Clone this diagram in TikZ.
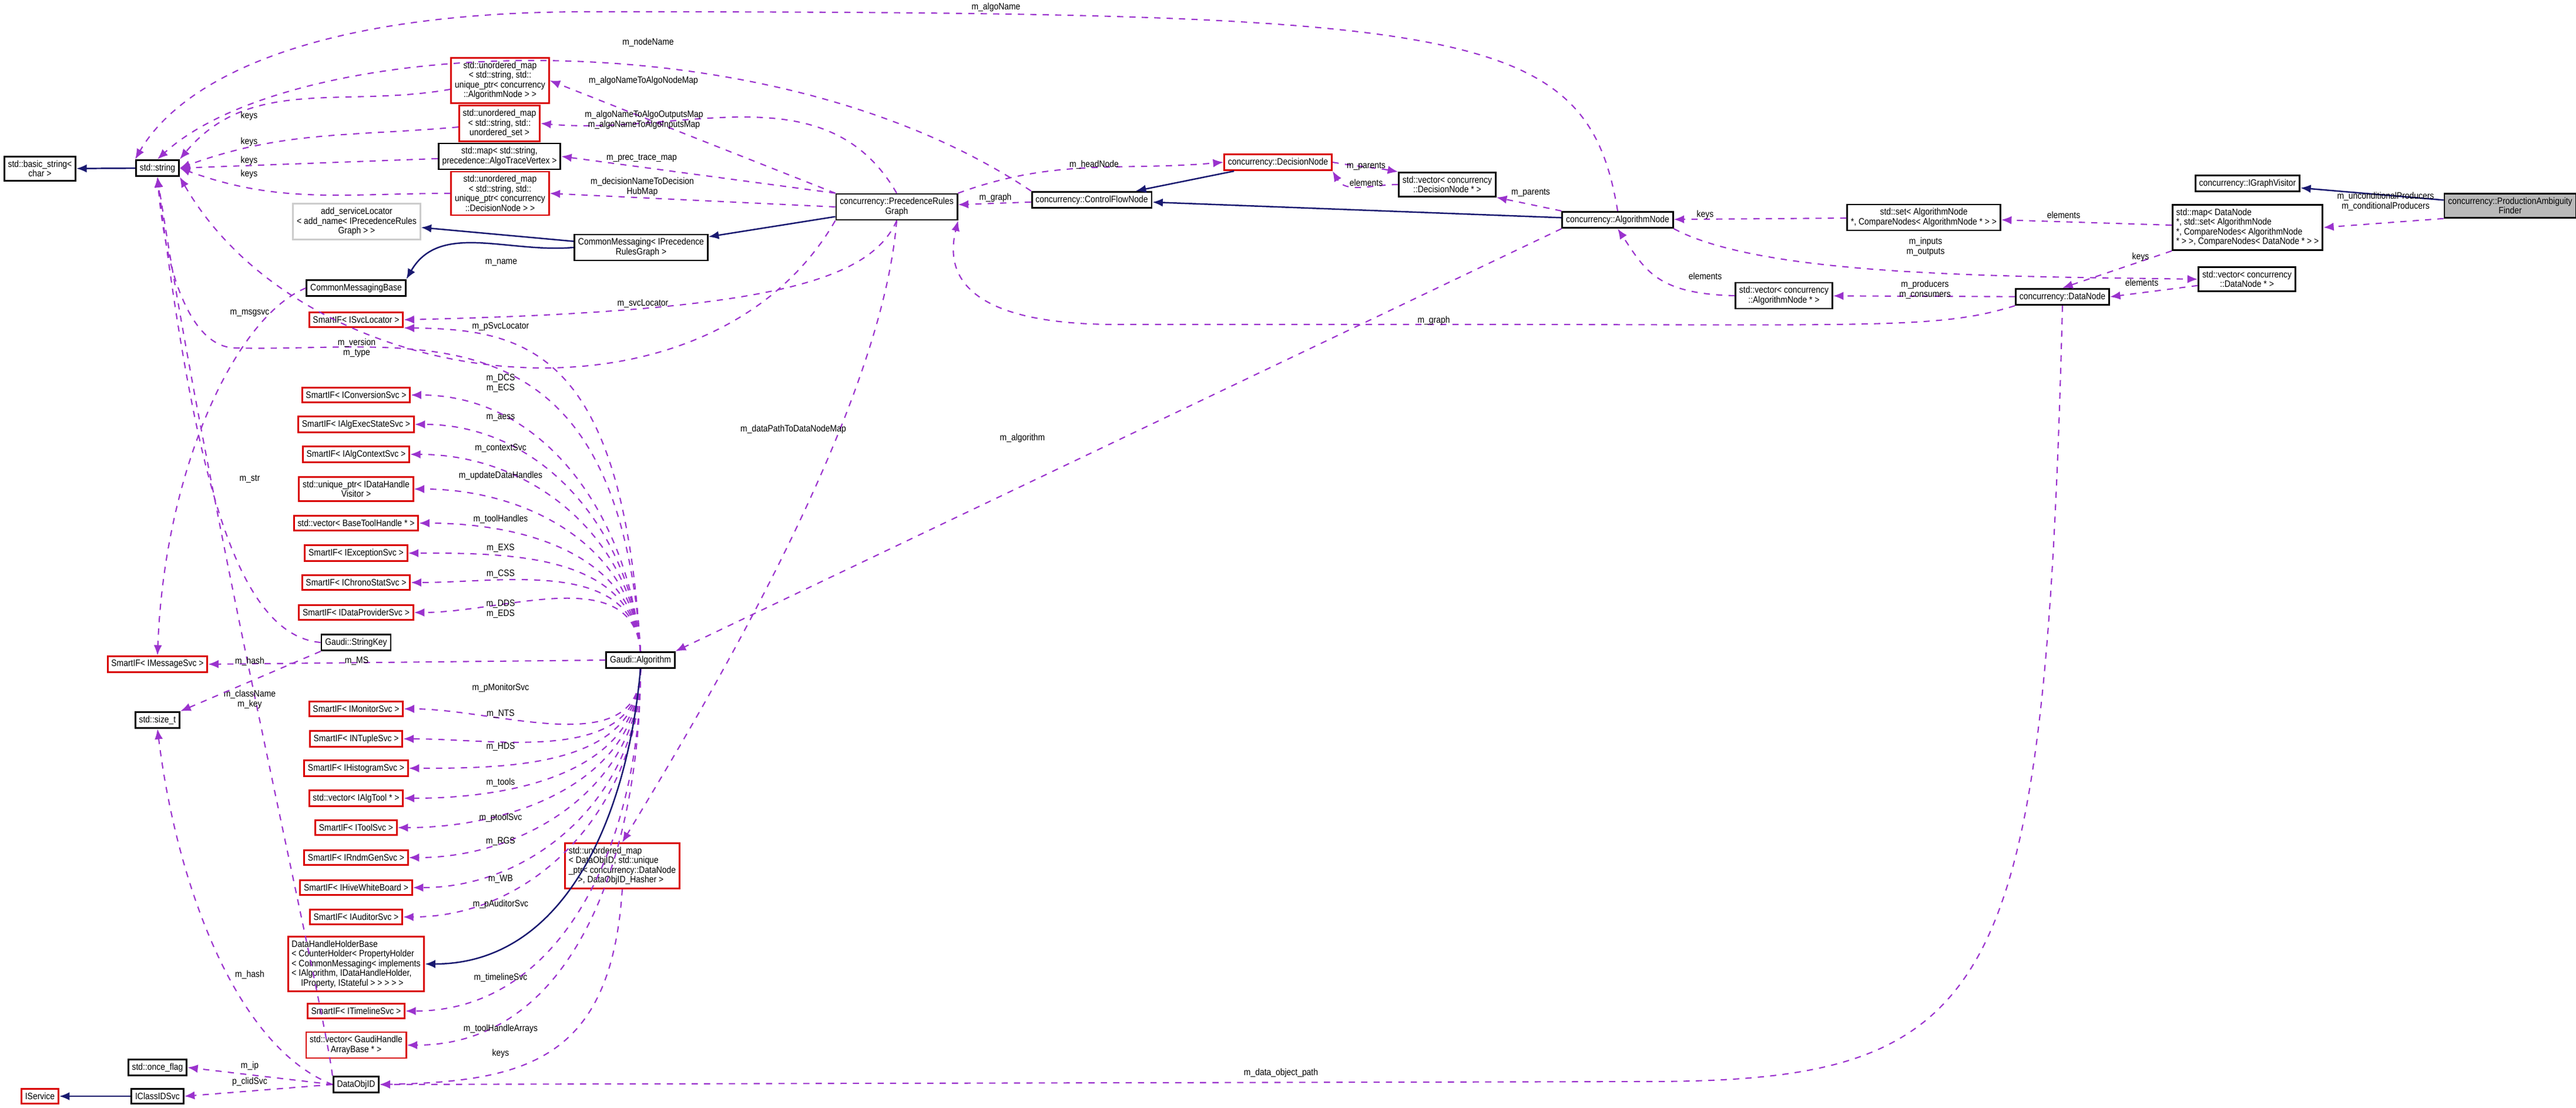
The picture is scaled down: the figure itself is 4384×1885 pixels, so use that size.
\documentclass[tikz,border=0pt]{standalone}
\usepackage{fontspec}
\setmainfont[FakeStretch=0.88]{Liberation Sans}
\usetikzlibrary{arrows.meta}
\definecolor{memberc}{RGB}{154,50,205}
\definecolor{basec}{RGB}{25,25,112}

\begin{document}
\begin{tikzpicture}[x=0.01cm,y=-0.01cm,
    font=\fontsize{4.5}{4.7}\selectfont,
    cls/.style={draw=black,thick,fill=white,align=center,inner sep=1.8pt,minimum height=0.25cm},
    redcls/.style={cls,draw=red!85!black},
    graycls/.style={cls,draw=gray!40},
    focus/.style={cls,fill=gray!55},
    uses/.style={draw=memberc,dashed,line width=0.6pt,-{Latex[length=5pt,width=4pt]}},
    isa/.style={draw=basec,line width=0.7pt,-{Latex[length=5pt,width=4pt]}},
    lbl/.style={align=center,inner sep=1pt},
  ]
  \useasboundingbox (0,0) rectangle (4384,1885);

  % Classes
  \node[cls] (bstr) at (68,287) {std::basic\_string\textless\\char \textgreater};
  \node[cls] (str) at (268,286) {std::string};
  \node[redcls] (umalg) at (851,137) {std::unordered\_map\\\textless{} std::string, std::\\unique\_ptr\textless{} concurrency\\::AlgorithmNode \textgreater{} \textgreater};
  \node[redcls] (umset) at (850,210) {std::unordered\_map\\\textless{} std::string, std::\\unordered\_set \textgreater};
  \node[cls] (mtrace) at (850,266) {std::map\textless{} std::string,\\precedence::AlgoTraceVertex \textgreater};
  \node[redcls] (umdec) at (851,329) {std::unordered\_map\\\textless{} std::string, std::\\unique\_ptr\textless{} concurrency\\::DecisionNode \textgreater{} \textgreater};
  \node[graycls] (addsvc) at (607,377) {add\_serviceLocator\\\textless{} add\_name\textless{} IPrecedenceRules\\Graph \textgreater{} \textgreater};
  \node[cls] (cmbase) at (606,490) {CommonMessagingBase};
  \node[cls] (cmprec) at (1091,421) {CommonMessaging\textless{} IPrecedence\\RulesGraph \textgreater};
  \node[cls] (prg) at (1526,352) {concurrency::PrecedenceRules\\Graph};
  \node[cls] (cfn) at (1858,340) {concurrency::ControlFlowNode};
  \node[redcls] (decn) at (2175,276) {concurrency::DecisionNode};
  \node[cls] (vdec) at (2463,314) {std::vector\textless{} concurrency\\::DecisionNode * \textgreater};
  \node[cls] (algn) at (2753,374) {concurrency::AlgorithmNode};
  \node[cls] (salg) at (3274,370) {std::set\textless{} AlgorithmNode\\*, CompareNodes\textless{} AlgorithmNode * \textgreater{} \textgreater};
  \node[cls,align=left] (mdn) at (3825,387) {std::map\textless{} DataNode\\*, std::set\textless{} AlgorithmNode\\*, CompareNodes\textless{} AlgorithmNode\\* \textgreater{} \textgreater, CompareNodes\textless{} DataNode * \textgreater{} \textgreater};
  \node[cls] (igv) at (3825,312) {concurrency::IGraphVisitor};
  \node[focus] (paf) at (4272,350) {concurrency::ProductionAmbiguity\\Finder};
  \node[cls] (vdn) at (3824,475) {std::vector\textless{} concurrency\\::DataNode * \textgreater};
  \node[cls] (datn) at (3510,505) {concurrency::DataNode};
  \node[cls] (valg) at (3036,503) {std::vector\textless{} concurrency\\::AlgorithmNode * \textgreater};

  \node[cls] (galg) at (1090,1123) {Gaudi::Algorithm};
  \node[redcls] (svcloc) at (606,544) {SmartIF\textless{} ISvcLocator \textgreater};
  \node[cls] (skey) at (606,1093) {Gaudi::StringKey};
  \node[redcls] (msgsvc) at (268,1130) {SmartIF\textless{} IMessageSvc \textgreater};
  \node[cls] (sizet) at (268,1225) {std::size\_t};
  \node[redcls,align=left] (dhhb) at (606,1640) {DataHandleHolderBase\\\textless{} CounterHolder\textless{} PropertyHolder\\\textless{} CommonMessaging\textless{} implements\\\textless{} IAlgorithm, IDataHandleHolder,\\\quad IProperty, IStateful \textgreater{} \textgreater{} \textgreater{} \textgreater{} \textgreater};
  \node[redcls,align=left] (umdo) at (1059,1473) {std::unordered\_map\\\textless{} DataObjID, std::unique\\\_ptr\textless{} concurrency::DataNode\\\quad\textgreater, DataObjID\_Hasher \textgreater};
  \node[cls] (doid) at (606,1845) {DataObjID};
  \node[cls] (oflag) at (268,1816) {std::once\_flag};
  \node[cls] (iclid) at (268,1865) {IClassIDSvc};
  \node[redcls] (isvc) at (68,1865) {IService};

  % Members of Gaudi::Algorithm
  \foreach \nm/\txt/\yy/\lab/\ly in {
      conv/{SmartIF\textless{} IConversionSvc \textgreater}/672/{m\_DCS\\m\_ECS}/652,
      aess/{SmartIF\textless{} IAlgExecStateSvc \textgreater}/722/{m\_aess}/711,
      ctx/{SmartIF\textless{} IAlgContextSvc \textgreater}/773/{m\_contextSvc}/763,
      dhv/{std::unique\_ptr\textless{} IDataHandle\\Visitor \textgreater}/832/{m\_updateDataHandles}/809,
      bth/{std::vector\textless{} BaseToolHandle * \textgreater}/890/{m\_toolHandles}/883,
      exs/{SmartIF\textless{} IExceptionSvc \textgreater}/941/{m\_EXS}/933,
      css/{SmartIF\textless{} IChronoStatSvc \textgreater}/991/{m\_CSS}/977,
      dds/{SmartIF\textless{} IDataProviderSvc \textgreater}/1042/{m\_DDS\\m\_EDS}/1036}{
    \node[redcls] (\nm) at (606,\yy) {\txt};
    \draw[uses] (galg.north) to[out=95,in=0] (\nm.east);
    \node[lbl] at (852,\ly) {\lab};
  }
  \foreach \nm/\txt/\yy/\lab/\ly in {
      mon/{SmartIF\textless{} IMonitorSvc \textgreater}/1206/{m\_pMonitorSvc}/1170,
      nts/{SmartIF\textless{} INTupleSvc \textgreater}/1257/{m\_NTS}/1215,
      hds/{SmartIF\textless{} IHistogramSvc \textgreater}/1307/{m\_HDS}/1271,
      tls/{std::vector\textless{} IAlgTool * \textgreater}/1358/{m\_tools}/1331,
      tsv/{SmartIF\textless{} IToolSvc \textgreater}/1408/{m\_ptoolSvc}/1391,
      rgs/{SmartIF\textless{} IRndmGenSvc \textgreater}/1459/{m\_RGS}/1432,
      hwb/{SmartIF\textless{} IHiveWhiteBoard \textgreater}/1510/{m\_WB}/1496,
      aud/{SmartIF\textless{} IAuditorSvc \textgreater}/1560/{m\_pAuditorSvc}/1538,
      tml/{SmartIF\textless{} ITimelineSvc \textgreater}/1720/{m\_timelineSvc}/1663,
      gha/{std::vector\textless{} GaudiHandle\\ArrayBase * \textgreater}/1778/{m\_toolHandleArrays}/1750}{
    \node[redcls] (\nm) at (606,\yy) {\txt};
    \draw[uses] (galg.south) to[out=-90,in=0] (\nm.east);
    \node[lbl] at (852,\ly) {\lab};
  }

  % Inheritance
  \draw[isa] (str) -- (bstr);
  \draw[isa] (cmprec) -- (addsvc);
  \draw[isa] (cmprec.west) to[out=185,in=60] (cmbase.north east);
  \draw[isa] (prg) -- (cmprec);
  \draw[isa] (decn) -- (cfn);
  \draw[isa] (algn) -- (cfn);
  \draw[isa] (paf) -- (igv);
  \draw[isa] (galg.south) to[out=-95,in=0] (dhhb.east);
  \draw[isa] (iclid) -- (isvc);

  % Members around std::string
  \draw[uses] (umalg) to[out=190,in=50] (str.north east) ;
  \draw[uses] (umset) to[out=185,in=20] (str.east);
  \draw[uses] (mtrace) -- (str.east);
  \draw[uses] (umdec) to[out=180,in=-20] (str.east);
  \draw[uses] (prg.south west) to[out=-120,in=-60] (str.south east);
  \draw[uses] (cfn.north west) .. controls (1300,20) and (500,60) .. (str.north);
  \draw[uses] (algn.north) .. controls (2700,40) and (2500,20) .. (1000,20) .. controls (500,20) and (300,150) .. (str.north west);
  \draw[uses] (galg.north) .. controls (1050,500) and (700,600) .. (400,592) .. controls (320,590) and (280,450) .. (str.south);
  \draw[uses] (skey.west) .. controls (400,1080) and (330,800) .. (str.south);
  \draw[uses] (doid.north west) .. controls (550,1700) and (360,900) .. (str.south);
  \node[lbl] at (424,197) {keys};
  \node[lbl] at (424,241) {keys};
  \node[lbl] at (424,273) {keys};
  \node[lbl] at (424,296) {keys};
  \node[lbl] at (853,447) {m\_name};
  \node[lbl] at (1103,72) {m\_nodeName};
  \node[lbl] at (1695,12) {m\_algoName};
  \node[lbl] at (607,592) {m\_version\\m\_type};
  \node[lbl] at (425,815) {m\_str};
  \node[lbl] at (425,1190) {m\_className\\m\_key};

  % Precedence rules graph members
  \draw[uses] (prg.north west) -- (umalg.east);
  \draw[uses] (prg.north) to[out=120,in=-5] (umset.east);
  \draw[uses] (prg.north west) -- (mtrace.east);
  \draw[uses] (prg.west) -- (umdec.east);
  \draw[uses] (cfn) -- (prg);
  \draw[uses] (prg.north east) to[out=20,in=185] (decn.west);
  \draw[uses] (prg.south) .. controls (1480,480) and (1300,530) .. (svcloc.east);
  \draw[uses] (galg.north) .. controls (1060,600) and (900,560) .. (svcloc.south east);
  \draw[uses] (prg.south) .. controls (1500,700) and (1200,1200) .. (umdo.north);
  \node[lbl] at (1095,137) {m\_algoNameToAlgoNodeMap};
  \node[lbl] at (1096,204) {m\_algoNameToAlgoOutputsMap\\m\_algoNameToAlgoInputsMap};
  \node[lbl] at (1092,269) {m\_prec\_trace\_map};
  \node[lbl] at (1093,318) {m\_decisionNameToDecision\\HubMap};
  \node[lbl] at (1694,336) {m\_graph};
  \node[lbl] at (1862,280) {m\_headNode};
  \node[lbl] at (1094,517) {m\_svcLocator};
  \node[lbl] at (852,556) {m\_pSvcLocator};
  \node[lbl] at (1350,730) {m\_dataPathToDataNodeMap};

  % Decision and algorithm nodes
  \draw[uses] (decn.east) to[out=-10,in=170] (vdec.north west);
  \draw[uses] (vdec.west) to[out=180,in=-60] (decn.south east);
  \draw[uses] (algn.north west) -- (vdec.south east);
  \draw[uses] (salg) -- (algn);
  \draw[uses] (mdn) -- (salg);
  \draw[uses] (paf.south west) -- (mdn.east);
  \draw[uses] (mdn.south west) -- (datn.north);
  \draw[uses] (vdn) -- (datn.east);
  \draw[uses] (algn.south east) .. controls (3000,470) and (3400,470) .. (vdn.west);
  \draw[uses] (valg.west) .. controls (2820,500) and (2800,460) .. (algn.south);
  \draw[uses] (datn) -- (valg);
  \draw[uses] (datn.south west) .. controls (3300,560) and (3200,552) .. (2500,552) -- (1900,552) .. controls (1700,552) and (1600,500) .. (prg.south east);
  \draw[uses] (algn.south west) -- (galg.north east);
  \node[lbl] at (2325,283) {m\_parents};
  \node[lbl] at (2325,311) {elements};
  \node[lbl] at (2605,328) {m\_parents};
  \node[lbl] at (2902,365) {keys};
  \node[lbl] at (3512,366) {elements};
  \node[lbl] at (4060,343) {m\_unconditionalProducers\\m\_conditionalProducers};
  \node[lbl] at (3643,437) {keys};
  \node[lbl] at (3645,481) {elements};
  \node[lbl] at (3277,420) {m\_inputs\\m\_outputs};
  \node[lbl] at (2902,470) {elements};
  \node[lbl] at (3276,493) {m\_producers\\m\_consumers};
  \node[lbl] at (2440,545) {m\_graph};
  \node[lbl] at (1740,745) {m\_algorithm};

  % Lower left
  \draw[uses] (galg.west) -- (msgsvc.east);
  \draw[uses] (cmbase.west) .. controls (400,540) and (280,800) .. (msgsvc.north);
  \draw[uses] (skey.south west) -- (sizet.north east);
  \draw[uses] (doid.west) .. controls (400,1780) and (300,1500) .. (sizet.south);
  \draw[uses] (doid.west) -- (oflag.east);
  \draw[uses] (doid.west) -- (iclid.east);
  \draw[uses] (umdo.south) .. controls (1040,1800) and (900,1840) .. (doid.east);
  \draw[uses] (datn.south) .. controls (3480,1700) and (3400,1840) .. (2800,1840) -- (doid.east);
  \node[lbl] at (425,1125) {m\_hash};
  \node[lbl] at (607,1125) {m\_MS};
  \node[lbl] at (425,533) {m\_msgsvc};
  \node[lbl] at (425,1658) {m\_hash};
  \node[lbl] at (425,1813) {m\_ip};
  \node[lbl] at (425,1840) {p\_clidSvc};
  \node[lbl] at (852,1792) {keys};
  \node[lbl] at (2180,1825) {m\_data\_object\_path};
\end{tikzpicture}
\end{document}
